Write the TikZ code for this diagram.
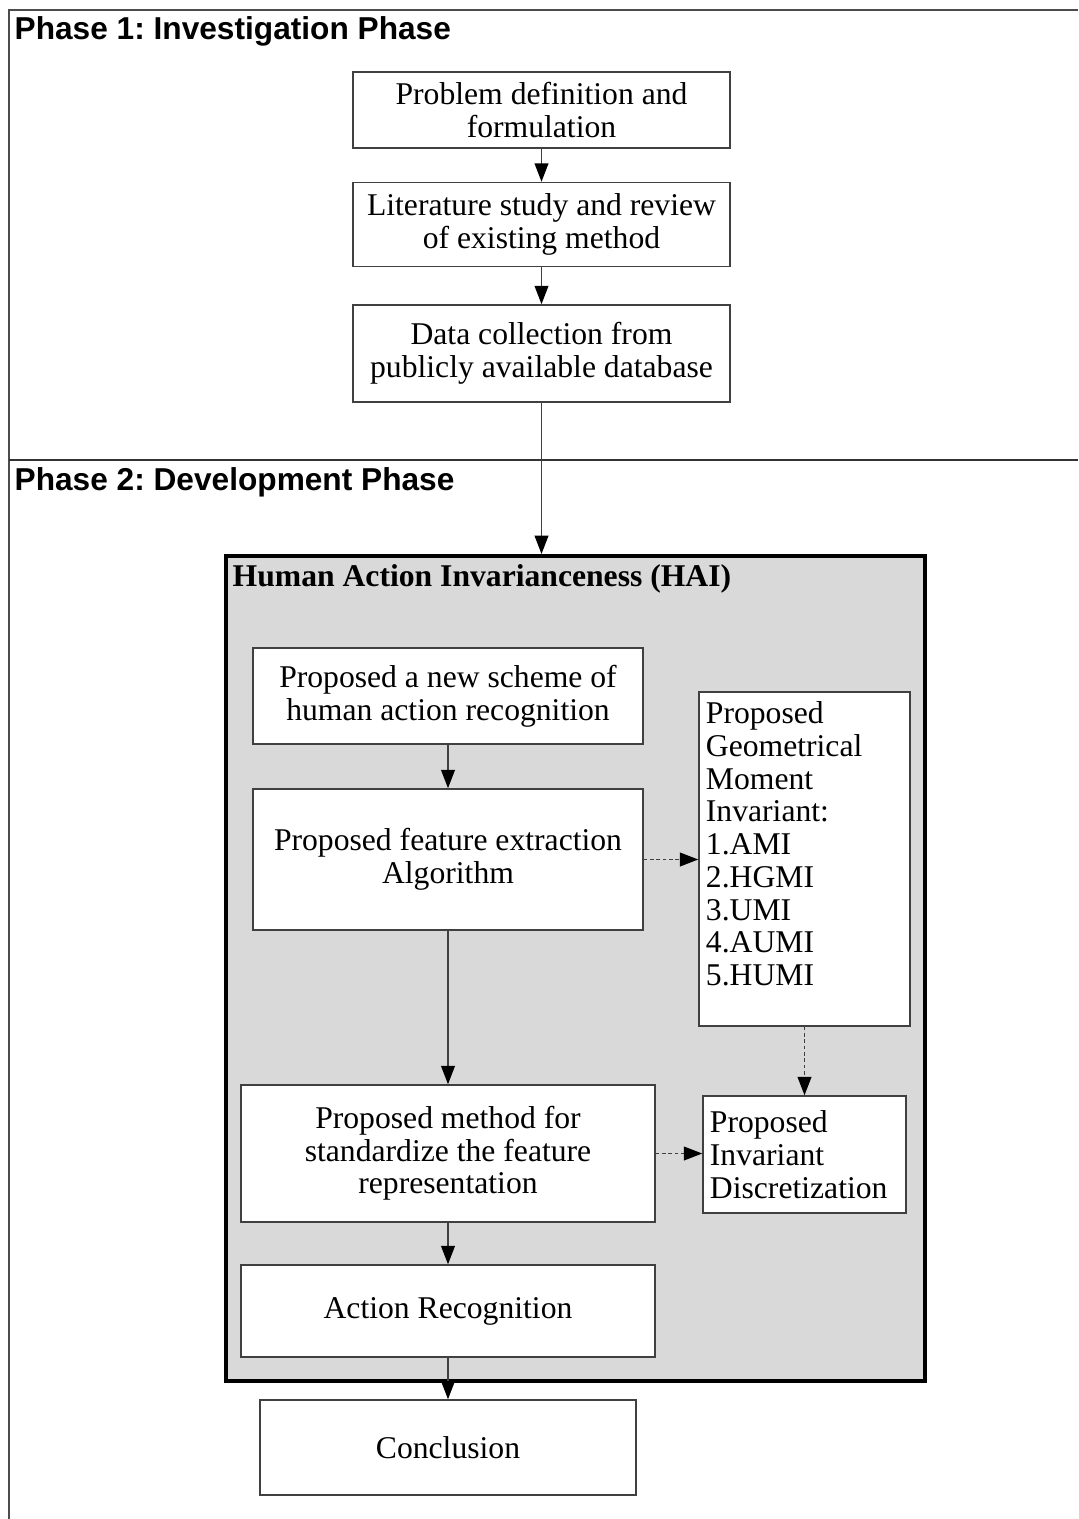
\documentclass[tikz,border=0pt]{standalone}
\usepackage{fontspec}
\setmainfont{Liberation Serif}
\newfontfamily\phasefont{Liberation Sans}
\usepackage{xcolor}
\usetikzlibrary{positioning, arrows.meta}
\definecolor{haigray}{HTML}{D9D9D9}
\frenchspacing

\begin{document}
\begin{tikzpicture}[
        x=0.01cm, y=-0.01cm,
        box/.style={rectangle, draw=black!75, line width=0.4pt, fill=white, align=center, inner sep=2pt, font=\fontsize{9}{9.3}\selectfont},
        sidebox/.style={box, inner sep=0pt},
        phase/.style={anchor=base west, inner sep=0pt, font=\phasefont\bfseries\fontsize{9}{10}\selectfont},
        arrow/.style={draw=black!75, line width=0.4pt, -{Triangle[length=5.2pt, width=3.9pt, color=black]}},
        dashedarrow/.style={arrow, dash pattern=on 1pt off 0.8pt},
    ]
        \useasboundingbox (0,0) rectangle (1078,1519);
        % frame
        \draw[black!70, line width=0.4pt] (9,1519) -- (9,10) -- (1078,10);
        \draw[black!80, line width=0.4pt] (9,460) -- (1078,460);
        \node[phase] (ph1) at (14,40) {Phase 1: Investigation Phase};
        \node[phase] (ph2) at (14,491) {Phase 2: Development Phase};

        % phase 1
        \node[box, minimum width=3.77cm, minimum height=0.76cm] (prob) at (541.5,110) {Problem definition and\\formulation};
        \node[box, minimum width=3.77cm, minimum height=0.84cm, below=0.33cm of prob] (lit) {Literature study and review\\of existing method};
        \node[box, minimum width=3.77cm, minimum height=0.97cm, below=0.37cm of lit] (data) {Data collection from\\publicly available database};

        % phase 2
        \node[draw=black, line width=1pt, fill=haigray, minimum width=6.99cm, minimum height=8.25cm] (hai) at (575.5,968.5) {};
        \node[anchor=base west, inner sep=0pt, font=\bfseries\fontsize{9}{10}\selectfont] (haititle) at (232,587) {Human Action Invarianceness (HAI)};
        \node[box, minimum width=3.90cm, minimum height=0.96cm] (scheme) at (448,696) {Proposed a new scheme of\\human action recognition};
        \node[box, minimum width=3.90cm, minimum height=1.41cm] (feat) at (448,859.5) {Proposed feature extraction\\Algorithm};
        \node[box, minimum width=4.14cm, minimum height=1.37cm] (std) at (448,1153.5) {Proposed method for\\standardize the feature\\representation};
        \node[box, minimum width=4.14cm, minimum height=0.92cm] (recog) at (448,1311) {Action Recognition};
        \node[box, minimum width=3.76cm, minimum height=0.95cm] (concl) at (448,1447.5) {Conclusion};
        \node[sidebox, minimum width=2.11cm, minimum height=3.34cm] (moment) at (804.5,859)
            {\parbox[c][3.14cm][t]{1.97cm}{\raggedright Proposed\\Geometrical\\Moment\\Invariant:\\1.AMI\\2.HGMI\\3.UMI\\4.AUMI\\5.HUMI}};
        \node[sidebox, minimum width=2.03cm, minimum height=1.17cm] (discr) at (804.5,1154.5)
            {\parbox{1.89cm}{\raggedright Proposed\\Invariant\\Discretization}};

        \draw[arrow] (prob) -- (lit);
        \draw[arrow] (lit) -- (data);
        \draw[arrow] (data.south) -- (data.south |- hai.north);
        \draw[arrow] (scheme) -- (feat);
        \draw[arrow] (feat) -- (std);
        \draw[arrow] (std) -- (recog);
        \draw[arrow] (recog) -- (concl);
        \draw[dashedarrow] (feat.east) -- (feat.east -| moment.west);
        \draw[dashedarrow] (moment) -- (discr);
        \draw[dashedarrow] (std.east) -- (std.east -| discr.west);
    \end{tikzpicture}
\end{document}
